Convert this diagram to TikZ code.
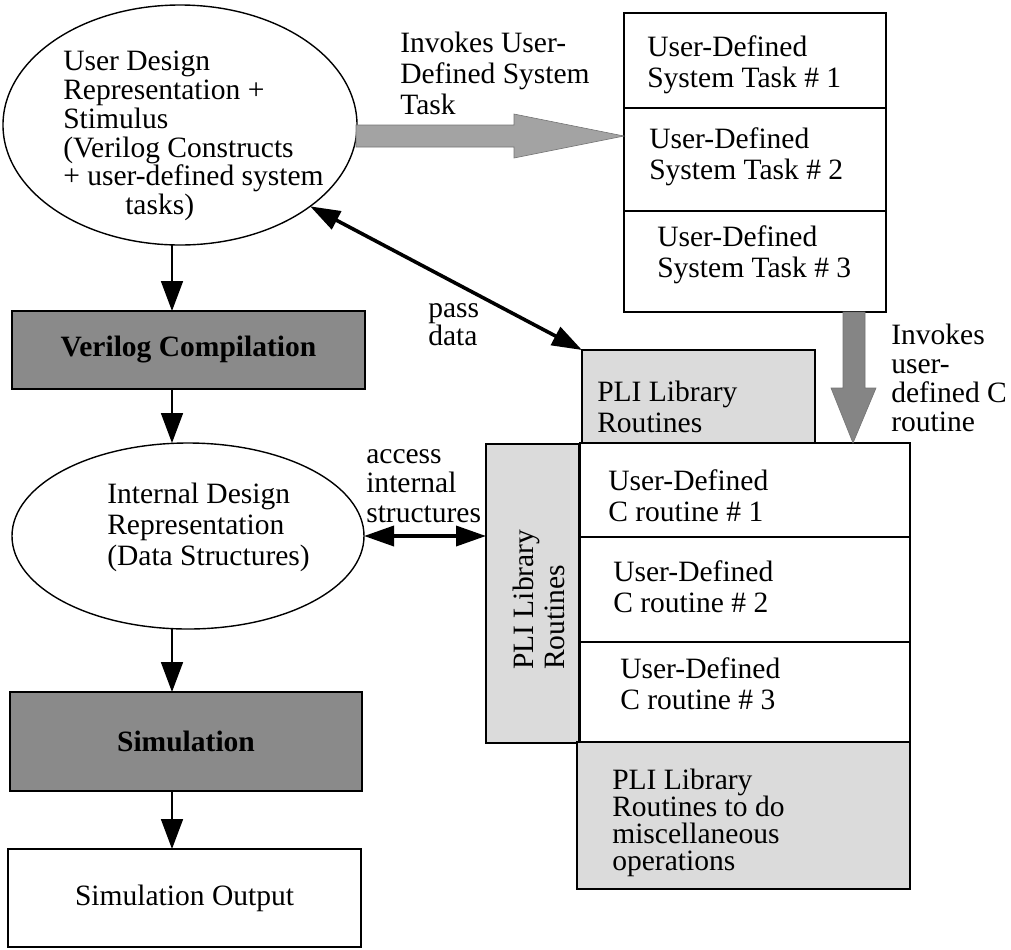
\documentclass[tikz,border=0pt]{standalone}
\usepackage{fontspec}
\setmainfont{Liberation Serif}
\usetikzlibrary{shapes.geometric,arrows.meta}
\definecolor{dkgray}{gray}{0.54}
\definecolor{ltgray}{gray}{0.86}
\definecolor{arrgray}{gray}{0.64}
\definecolor{arrgrayb}{gray}{0.52}
\begin{document}
\begin{tikzpicture}[x=0.25mm,y=-0.25mm,
  rbox/.style={draw,line width=0.4mm,inner sep=0,outer sep=0,rectangle},
  ell/.style={draw,line width=0.35mm,ellipse,inner sep=0,outer sep=0},
  txt/.style={font=\fontsize{21}{22}\selectfont,align=left,inner sep=0,anchor=west},
  thinarr/.style={line width=0.45mm,-{Triangle[length=7.5mm,width=5.5mm]}},
  thickarr/.style={line width=0.9mm,{Triangle[length=7.5mm,width=5mm]}-{Triangle[length=7.5mm,width=5mm]}},
  bigarr/.style={fill=#1,draw=black!55,line width=0.15mm}
]
\useasboundingbox (0,0) rectangle (1011,949);

% left column
\node[ell,minimum width=88.5mm,minimum height=60mm] (ud) at (180,125) {};
\node[txt,font=\fontsize{21}{20.5}\selectfont] (udt) at (63,136) {User Design\\Representation +\\Stimulus\\(Verilog Constructs\\+ user-defined system\\\hspace*{15.5mm}tasks)};

\node[rbox,fill=dkgray,minimum width=88.25mm,minimum height=19.5mm,font=\fontsize{21}{22}\selectfont\bfseries] (ver) at (188.5,350) {Verilog Compilation};

\node[ell,minimum width=88mm,minimum height=46.5mm] (in) at (188,536) {};
\node[txt] (int) at (107,527) {Internal Design\\Representation\\(Data Structures)};

\node[rbox,fill=dkgray,minimum width=88mm,minimum height=24.75mm,font=\fontsize{21}{22}\selectfont\bfseries] (sim) at (186,741.5) {Simulation};

\node[rbox,minimum width=88.25mm,minimum height=24.5mm,font=\fontsize{21}{22}\selectfont] (out) at (184.5,898) {Simulation Output};

% task boxes
\node[rbox,minimum width=65.5mm,minimum height=23.75mm] (t1) at (755,60.5) {};
\node[rbox,minimum width=65.5mm,minimum height=25.75mm] (t2) at (755,159.5) {};
\node[rbox,minimum width=65.5mm,minimum height=25.25mm] (t3) at (755,261.5) {};
\node[txt] (t1t) at (647,65) {User-Defined\\System Task \# 1};
\node[txt] (t2t) at (649,157) {User-Defined\\System Task \# 2};
\node[txt] (t3t) at (657,255) {User-Defined\\System Task \# 3};

% PLI and C routine boxes
\node[rbox,fill=ltgray,minimum width=58.25mm,minimum height=23.25mm] (plt) at (698.5,396.5) {};
\node[txt] (pltt) at (597,407) {PLI Library\\Routines};
\node[rbox,fill=ltgray,minimum width=23.25mm,minimum height=74.75mm] (plv) at (532.5,593.5) {};
\node[txt,rotate=90] (plvt) at (539,670) {PLI Library\\Routines};
\node[rbox,minimum width=82.5mm,minimum height=23.5mm] (cr1) at (745,490) {};
\node[rbox,minimum width=82.5mm,minimum height=26.25mm] (cr2) at (745,589.5) {};
\node[rbox,minimum width=82.5mm,minimum height=25mm] (cr3) at (745,692) {};
\node[txt] (cr1t) at (608,496) {User-Defined\\C routine \# 1};
\node[txt] (cr2t) at (613,587) {User-Defined\\C routine \# 2};
\node[txt] (cr3t) at (620,684) {User-Defined\\C routine \# 3};
\node[rbox,fill=ltgray,minimum width=83.25mm,minimum height=36.75mm] (misc) at (743.5,815.5) {};
\node[txt,font=\fontsize{21}{19.2}\selectfont] (misct) at (612,823) {PLI Library\\Routines to do\\miscellaneous\\operations};

% labels
\node[txt] (lab1) at (400,73) {Invokes User-\\Defined System\\Task};
\node[txt,font=\fontsize{21}{20.5}\selectfont] (lab2) at (891,378) {Invokes\\user-\\defined C\\routine};
\node[txt,font=\fontsize{21}{20}\selectfont] (lab3) at (428,325) {pass\\data};
\node[txt,font=\fontsize{21}{21}\selectfont] (lab4) at (366,486) {access\\internal\\structures};

% big gray arrows
\draw[bigarr=arrgray] (356,125) -- (514,125) -- (514,114) -- (t2.west |- 0,136) -- (514,158) -- (514,147) -- (356,147) -- cycle;
\draw[bigarr=arrgrayb] (843,312) -- (865,312) -- (865,388) -- (876,388) -- (853,443) -- (831,388) -- (843,388) -- cycle;

% connectors
\coordinate (cx) at (172,0);
\draw[thinarr] (ud.south -| cx) -- (ver.north -| cx);
\draw[thinarr] (ver.south -| cx) -- (in.north -| cx);
\draw[thinarr] (in.south -| cx) -- (sim.north -| cx);
\draw[thinarr] (sim.south -| cx) -- (out.north -| cx);
\draw[thickarr] (in.east) -- (plv.west |- in.east);
\draw[thickarr] (ud.-32) -- (plt.north west);
\end{tikzpicture}
\end{document}
